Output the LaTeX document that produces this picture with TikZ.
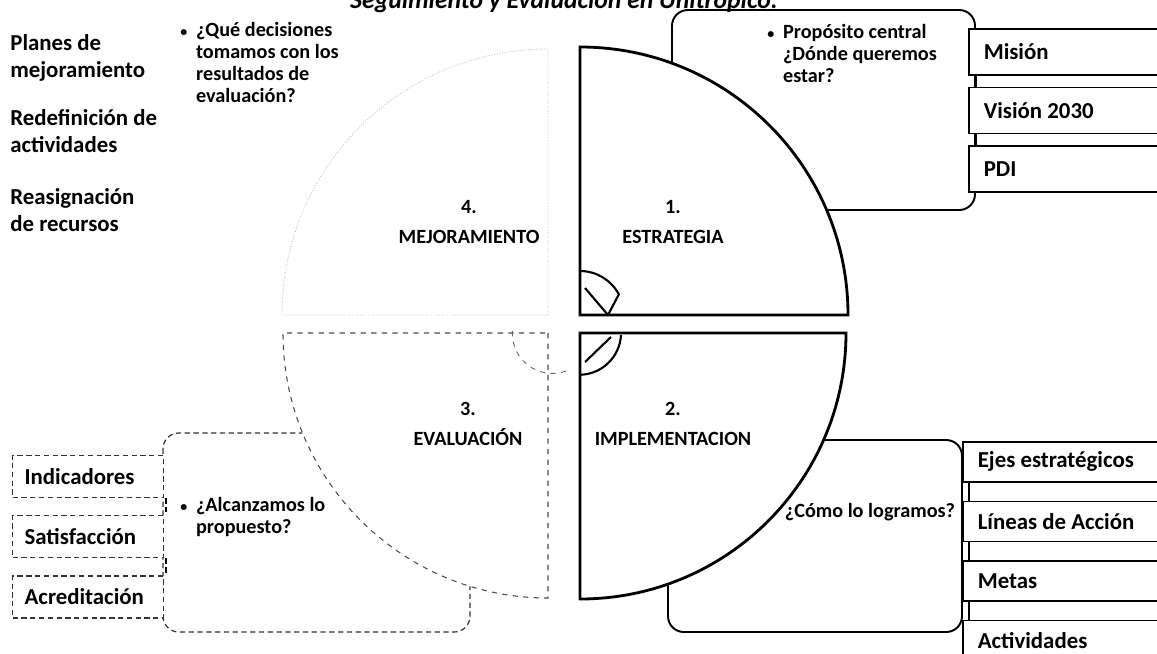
\documentclass[tikz,border=0pt]{standalone}
\usepackage{fontspec}
\setmainfont{Carlito}
\usetikzlibrary{positioning}

\newcommand{\bulletitem}[1]{%
  \begin{tabular}[t]{@{}l@{\hspace{5pt}}l@{}}{\fontsize{8}{8}\selectfont\textbullet} &
    \begin{tabular}[t]{@{}l@{}}#1\end{tabular}\end{tabular}}

\begin{document}
\begin{tikzpicture}[
    x=0.02cm,y=-0.02cm,
    every node/.style={font=\bfseries},
    quadsolid/.style={draw=black,line width=1.6pt,fill=white},
    quaddash/.style={draw=black!70,line width=0.6pt,dashed,fill=white},
    quadfaint/.style={draw=black!25,line width=0.5pt,densely dotted,fill=white},
    panel/.style={draw=black,line width=1.1pt,rounded corners=9pt},
    panelfaint/.style={draw=black!80,line width=0.7pt,densely dashed,rounded corners=9pt},
    quadlabel/.style={align=center,inner sep=0pt,font=\bfseries\fontsize{11.5}{17}\selectfont},
    note/.style={inner sep=0pt,font=\bfseries\fontsize{11.5}{12.5}\selectfont},
    sidetext/.style={align=left,inner sep=0pt,font=\bfseries\fontsize{13}{15.3}\selectfont},
    itemr/.style={draw=black,line width=0.9pt,fill=white,align=flush left,
      text width=3.4cm,inner xsep=0.3cm,inner ysep=0pt,
      font=\bfseries\fontsize{13}{15}\selectfont},
    iteml/.style={draw=black!80,line width=0.7pt,densely dashed,fill=white,align=flush left,
      text width=2.54cm,inner xsep=0.24cm,inner ysep=0pt,minimum height=0.84cm,
      font=\bfseries\fontsize{13}{15}\selectfont},
    tick/.style={draw=black,line width=0.7pt}
  ]
  \clip (0,0) rectangle (1157,653);

  % title, cut by the top edge
  \node[anchor=base,inner sep=0pt,font=\bfseries\itshape\fontsize{14.6}{16}\selectfont]
    (title) at (564,8) {Seguimiento y Evaluación en Unitrópico.};

  % panels behind the quadrants
  \draw[panel] (672,10) rectangle (975,210);
  \draw[panel] (668,440) rectangle (962,632);
  \draw[panelfaint] (163,433) rectangle (470,632);

  % quadrants
  \draw[quadfaint] (548,315) -- (282,315) arc[start angle=180,end angle=270,radius=266] -- cycle;
  \draw[quaddash] (548,333) -- (548,598) arc[start angle=90,end angle=180,radius=265] -- cycle;
  \draw[quadsolid] (580,315) -- (580,47) arc[start angle=-90,end angle=0,radius=268] -- cycle;
  \draw[quadsolid] (580,333) -- (846,333) arc[start angle=0,end angle=90,radius=266] -- cycle;

  % cycle arrows in the middle
  \draw[line width=1.2pt] (580,271) arc[start angle=-90,end angle=-28,radius=44] -- (608,315);
  \draw[line width=1.2pt] (585,288) -- (608,315);
  \draw[line width=1.2pt] (621,335) arc[start angle=3,end angle=90,radius=42];
  \draw[line width=1.2pt] (585,362) -- (611,337);
  \draw[black!60,line width=0.5pt,dashed] (566,371) arc[start angle=70,end angle=190,radius=40];

  \node[quadlabel] (mejora) at (469,222) {4.\\MEJORAMIENTO};
  \node[quadlabel] (estrat) at (673,222) {1.\\ESTRATEGIA};
  \node[quadlabel] (evalua) at (468,424) {3.\\EVALUACIÓN};
  \node[quadlabel] (implem) at (673,424) {2.\\IMPLEMENTACION};

  % left side texts
  \node[sidetext,anchor=north west] (planes) at (10,34) {Planes de\\mejoramiento};
  \node[sidetext,anchor=north west] (redef) at (10,109) {Redefinición de\\actividades};
  \node[sidetext,anchor=north west] (reasig) at (10,188) {Reasignación\\de recursos};

  % questions
  \node[note,anchor=north west] (qdecide) at (180,21)
    {\bulletitem{¿Qué decisiones\\tomamos con los\\resultados de\\evaluación?}};
  \node[note,anchor=north west] (qdonde) at (767,23)
    {\bulletitem{Propósito central\\¿Dónde queremos\\estar?}};
  \node[note,anchor=north west] (qalcanza) at (180,496)
    {\bulletitem{¿Alcanzamos lo\\propuesto?}};
  \node[note] (qcomo) at (870,512) {¿Cómo lo logramos?};

  % strategy items
  \node[itemr,minimum height=0.92cm,anchor=north west] (mision) at (968,28) {Misión};
  \node[itemr,minimum height=0.92cm,below=0.22cm of mision] (vision) {Visión 2030};
  \node[itemr,minimum height=0.92cm,below=0.22cm of vision] (pdi) {PDI};

  % implementation items
  \node[itemr,minimum height=0.8cm,anchor=north west] (ejes) at (962,441) {Ejes estratégicos};
  \node[itemr,minimum height=0.8cm,below=0.36cm of ejes] (lineas) {Líneas de Acción};
  \node[itemr,minimum height=0.8cm,below=0.36cm of lineas] (metas) {Metas};
  \node[itemr,minimum height=0.8cm,below=0.36cm of metas] (activ) {Actividades};

  % evaluation items
  \node[iteml,anchor=north west] (indic) at (12,455) {Indicadores};
  \node[iteml,below=0.34cm of indic] (satis) {Satisfacción};
  \node[iteml,below=0.34cm of satis] (acred) {Acreditación};

  % small links between stacked items
  \draw[tick] ([xshift=5pt]mision.south west) -- ([xshift=5pt]vision.north west);
  \draw[tick] ([xshift=5pt]vision.south west) -- ([xshift=5pt]pdi.north west);
  \draw[tick] ([xshift=4pt]ejes.south west) -- ([xshift=4pt]lineas.north west);
  \draw[tick] ([xshift=4pt]lineas.south west) -- ([xshift=4pt]metas.north west);
  \draw[tick] ([xshift=4pt]metas.south west) -- ([xshift=4pt]activ.north west);
  \draw[tick,densely dashed] ([xshift=1pt]indic.south east) -- ([xshift=1pt]satis.north east);
  \draw[tick,densely dashed] ([xshift=1pt]satis.south east) -- ([xshift=1pt]acred.north east);
\end{tikzpicture}
\end{document}
